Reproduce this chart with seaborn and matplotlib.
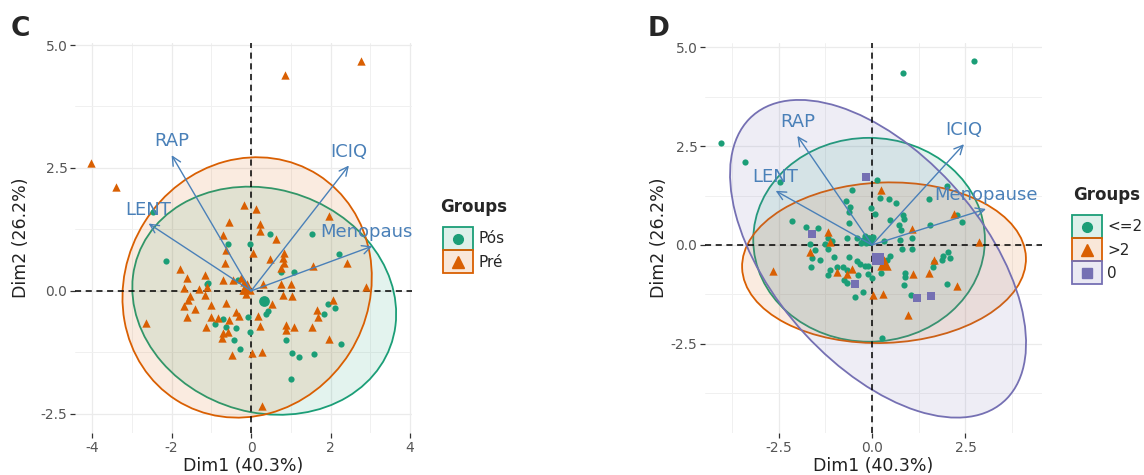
import matplotlib
matplotlib.use("Agg")
import pandas as pd
import matplotlib.pyplot as plt
import seaborn as sns
from matplotlib.patches import Ellipse, Rectangle
from matplotlib.lines import Line2D
from matplotlib.legend_handler import HandlerBase
from matplotlib.ticker import FixedLocator
from matplotlib.colors import to_rgba
from matplotlib.transforms import offset_copy

# variable loadings (same PCA in both panels)
var_names = ["RAP", "ICIQ", "LENT", "Menopause"]
var_x = [-2.00, 2.46, -2.58, 3.05]
var_y = [2.76, 2.55, 1.37, 0.91]

# ---- panel C : menopause status ----
c_groups = ["Pós", "Pré"]
c_pos = [(0.48, 1.16), (1.52, 1.16), (-0.58, 0.95), (-0.02, 0.95), (-2.13, 0.61), (0.76, 0.38),
         (1.07, 0.38), (-1.08, 0.17), (-1.12, 0.14), (-0.33, 0.22), (0.42, -0.40), (0.38, -0.48),
         (-0.08, -0.53), (-0.70, -0.58), (-0.91, -0.68), (-0.62, -0.73), (-0.38, -0.76), (-0.03, -0.83),
         (-0.43, -1.00), (-0.28, -1.18), (0.88, -1.00), (1.04, -1.26), (1.21, -1.35), (1.59, -1.28),
         (1.00, -1.79), (1.93, -0.27), (2.12, -0.35), (1.84, -0.47), (2.27, -1.08), (2.21, 0.76),
         (-2.46, 1.60)]
c_pre = [(-0.18, 1.74), (0.13, 1.66), (-0.55, 1.40), (0.23, 1.37), (0.23, 1.21), (-0.71, 1.13),
         (0.63, 1.06), (-0.63, 0.84), (0.06, 0.78), (0.84, 0.77), (0.48, 0.64), (0.80, 0.66),
         (1.97, 1.52), (2.42, 0.57), (1.55, 0.50), (0.82, 0.56), (0.75, 0.47), (-0.65, 0.56),
         (-1.80, 0.45), (-1.62, 0.27), (-1.17, 0.33), (-0.70, 0.22), (-0.46, 0.22), (-0.25, 0.27),
         (-0.17, 0.18), (-0.21, 0.01), (-0.13, -0.07), (-1.68, 0.05), (-1.30, 0.03), (-1.12, 0.08),
         (-1.16, -0.09), (-1.55, -0.11), (-1.59, -0.19), (-1.68, -0.30), (-1.40, -0.36), (-1.62, -0.54),
         (-1.01, -0.28), (-0.63, -0.24), (-0.38, -0.43), (-0.31, -0.51), (-0.56, -0.60), (-1.01, -0.53),
         (-0.84, -0.56), (-1.13, -0.73), (-0.71, -0.85), (-0.59, -0.83), (-0.73, -0.96), (0.18, -0.51),
         (0.23, -0.72), (0.52, -0.26), (0.80, -0.09), (1.03, -0.11), (1.01, 0.15), (0.74, 0.13),
         (0.31, 0.13), (0.88, -0.70), (1.07, -0.73), (0.88, -0.80), (1.53, -0.73), (1.66, -0.39),
         (1.68, -0.54), (2.05, -0.18), (1.97, -0.98), (2.88, 0.07), (-2.64, -0.66), (-0.49, -1.31),
         (0.02, -1.27), (0.28, -1.24), (0.28, -2.34), (-4.03, 2.61), (-3.40, 2.11), (0.86, 4.39),
         (2.77, 4.67)]
# group means / 95% ellipses
c_mean_x = [0.33, -0.10]
c_mean_y = [-0.20, 0.07]
c_semi_a = [3.34, 3.16]
c_semi_b = [2.29, 2.62]
c_angle = [-8.7, 12.4]

# ---- panel D : parity groups ----
d_groups = ["<=2", ">2", "0"]
d_le2 = [(0.14, 1.65), (-0.54, 1.39), (0.21, 1.20), (0.46, 1.16), (0.63, 1.05), (-0.70, 1.10),
         (-0.59, 0.97), (-0.63, 0.84), (-0.04, 0.93), (0.08, 0.78), (-2.13, 0.61), (-1.77, 0.45),
         (-1.46, 0.42), (-0.63, 0.55), (0.48, 0.62), (0.82, 0.76), (0.86, 0.65), (0.73, 0.51),
         (0.78, 0.38), (1.06, 0.17), (1.55, 0.51), (2.00, 1.49), (2.26, 0.76), (2.42, 0.57),
         (1.53, 1.16), (-1.19, 0.17), (-1.08, 0.11), (-1.26, 0.03), (-1.17, -0.11), (-1.52, -0.13),
         (-1.66, 0.03), (-0.68, 0.17), (-0.41, 0.17), (-0.19, 0.23), (-0.23, 0.13), (-0.05, 0.11),
         (0.32, 0.11), (0.75, 0.13), (0.81, -0.11), (1.06, -0.11), (-1.61, -0.34), (-1.39, -0.38),
         (-1.64, -0.57), (-1.01, -0.31), (-0.63, -0.30), (-0.39, -0.40), (-0.32, -0.49), (-0.19, -0.53),
         (-0.78, -0.55), (-0.94, -0.57), (-1.12, -0.63), (-1.19, -0.76), (-0.68, -0.63), (-0.75, -0.89),
         (-0.68, -0.97), (-0.37, -0.76), (-0.10, -0.74), (-0.25, -1.18), (-0.47, -1.31), (-0.01, -0.84),
         (-0.10, -0.53), (0.23, -0.72), (0.48, -0.28), (0.39, -0.38), (0.88, -0.70), (0.88, -0.80),
         (0.86, -1.01), (1.03, -1.27), (1.64, -0.55), (1.67, -0.42), (1.86, -0.38), (1.90, -0.28),
         (2.04, -0.19), (2.09, -0.34), (2.00, -1.00), (0.26, -2.35), (0.84, 4.36), (2.74, 4.66),
         (-4.04, 2.58), (-3.40, 2.10), (-2.46, 1.60), (-0.30, 0.05), (-0.15, 0.04), (0.02, 0.20)]
d_gt2 = [(0.23, 1.38), (-1.17, 0.34), (-1.12, 0.08), (-1.66, -0.17), (-2.64, -0.65), (1.08, 0.40),
         (2.19, 0.78), (2.87, 0.07), (1.67, -0.38), (1.53, -0.72), (1.09, -0.73), (2.26, -1.05),
         (-0.54, -0.62), (-0.68, -0.73), (-0.93, -0.68), (0.02, -1.27), (0.29, -1.24), (0.97, -1.77)]
d_zero = [(-0.17, 1.73), (-1.61, 0.28), (-0.45, -1.00), (1.19, -1.35), (1.57, -1.28)]
d_mean_x = [-0.08, 0.32, 0.16]
d_mean_y = [0.13, -0.45, -0.35]
d_semi_a = [3.10, 3.80, 4.94]
d_semi_b = [2.58, 2.03, 2.73]
d_angle = [0.0, 2.0, -45.8]

GREEN, ORANGE, PURPLE = "#1B9E77", "#D95F02", "#7570B3"
ARROW = "#4A80B8"

df_c = pd.concat([pd.DataFrame(c_pos, columns=["x", "y"]).assign(group="Pós"),
                  pd.DataFrame(c_pre, columns=["x", "y"]).assign(group="Pré")])
df_d = pd.concat([pd.DataFrame(d_le2, columns=["x", "y"]).assign(group="<=2"),
                  pd.DataFrame(d_gt2, columns=["x", "y"]).assign(group=">2"),
                  pd.DataFrame(d_zero, columns=["x", "y"]).assign(group="0")])

sns.set_theme(style="white")
plt.rcParams["font.family"] = ["DejaVu Sans"]
plt.rcParams["axes.unicode_minus"] = False

fig = plt.figure(figsize=(11.44, 4.75), dpi=100)


class LegendKey:
    def __init__(self, color, marker, ms):
        self.color, self.marker, self.ms = color, marker, ms


class KeyHandler(HandlerBase):
    # ggplot-like key: tinted box with the marker centred in it
    def create_artists(self, legend, orig_handle, xdescent, ydescent, width, height, fontsize, trans):
        c = orig_handle.color
        box = Rectangle((-xdescent, -ydescent), width, height, facecolor=to_rgba(c, 0.15),
                        edgecolor=c, lw=1.3, transform=trans)
        mk = Line2D([width / 2 - xdescent], [height / 2 - ydescent], marker=orig_handle.marker,
                    color=c, markersize=orig_handle.ms, linestyle="", transform=trans)
        return [box, mk]


def draw_panel(ax, df, groups, colors, markers, sizes, mean_x, mean_y, semi_a, semi_b, angles,
               xlim, ylim, xmajor, xminor, ymajor, yminor, xlabels, ylabels):
    # ellipses
    for i, g in enumerate(groups):
        ax.add_patch(Ellipse((mean_x[i], mean_y[i]), 2 * semi_a[i], 2 * semi_b[i], angle=angles[i],
                             facecolor=to_rgba(colors[i], 0.12), edgecolor=colors[i], lw=1.3, zorder=1))
    ax.axhline(0, color="black", ls=(0, (4, 3)), lw=1.1, zorder=2)
    ax.axvline(0, color="black", ls=(0, (4, 3)), lw=1.1, zorder=2)

    for i, g in enumerate(groups):
        sub = df[df["group"] == g]
        sns.scatterplot(data=sub, x="x", y="y", ax=ax, color=colors[i], marker=markers[i],
                        s=sizes[i], linewidth=0, zorder=3, legend=False)
        sns.scatterplot(x=[mean_x[i]], y=[mean_y[i]], ax=ax, color=colors[i], marker=markers[i],
                        s=sizes[i] * 3, linewidth=0, zorder=3, legend=False)

    # variable arrows
    lab_tr = offset_copy(ax.transData, fig=fig, y=10, units="points")
    for name, vx, vy in zip(var_names, var_x, var_y):
        ax.annotate("", xy=(vx, vy), xytext=(0, 0),
                    arrowprops=dict(arrowstyle="->,head_length=0.45,head_width=0.22", color=ARROW,
                                    lw=1.0, shrinkA=0, shrinkB=0, mutation_scale=14), zorder=4)
        ax.text(vx, vy, name, transform=lab_tr, ha="center", va="center", color=ARROW,
                fontsize=13, zorder=5, clip_on=True)

    ax.set_xlim(*xlim)
    ax.set_ylim(*ylim)
    ax.set_xticks(xmajor)
    ax.set_xticklabels(xlabels)
    ax.set_yticks(ymajor)
    ax.set_yticklabels(ylabels)
    ax.xaxis.set_minor_locator(FixedLocator(xminor))
    ax.yaxis.set_minor_locator(FixedLocator(yminor))
    ax.grid(which="major", color="#EBEBEB", lw=0.9)
    ax.grid(which="minor", color="#F0F0F0", lw=0.7)
    ax.set_axisbelow(True)
    ax.tick_params(which="major", length=3.5, width=0.9, color="#333333", labelcolor="#555555",
                   labelsize=10, pad=2, bottom=True, left=True)
    ax.tick_params(which="minor", length=0)
    for s in ax.spines.values():
        s.set_visible(False)
    ax.set_xlabel("Dim1 (40.3%)", fontsize=12.5, color="#222222")
    ax.set_ylabel("Dim2 (26.2%)", fontsize=12.5, color="#222222")
    ax.xaxis.set_label_coords(0.5, -0.062)


def add_legend(ax, groups, colors, markers, msizes, title_xy, anchor):
    # title drawn on its own so the gap above the keys matches
    fig.text(title_xy[0], title_xy[1], "Groups", fontsize=12, fontweight="bold", ha="left", va="center")
    handles = [LegendKey(c, m, ms) for c, m, ms in zip(colors, markers, msizes)]
    ax.legend(handles, groups, loc="upper left", bbox_to_anchor=anchor,
              bbox_transform=fig.transFigure, frameon=False, fontsize=11,
              handler_map={LegendKey: KeyHandler()}, handlelength=1.96,
              handleheight=1.95, labelspacing=0.0, handletextpad=0.35, borderpad=0, borderaxespad=0)


ax_c = fig.add_axes([0.0656, 0.0884, 0.2946, 0.821])
draw_panel(ax_c, df_c, c_groups, [GREEN, ORANGE], ["o", "^"], [20, 36],
           c_mean_x, c_mean_y, c_semi_a, c_semi_b, c_angle,
           (-4.43, 4.05), (-2.89, 5.04),
           [-4, -2, 0, 2, 4], [-3, -1, 1, 3], [-2.5, 0, 2.5, 5.0], [-1.25, 1.25, 3.75],
           ["-4", "-2", "0", "2", "4"], ["-2.5", "0.0", "2.5", "5.0"])
ax_c.yaxis.set_label_coords(-0.135, 0.5)
add_legend(ax_c, c_groups, [GREEN, ORANGE], ["o", "^"], [7, 9],
           (440 / 1144, 1 - 207 / 475), (443 / 1144, 1 - 227 / 475))

ax_d = fig.add_axes([0.6163, 0.0884, 0.2946, 0.821])
draw_panel(ax_d, df_d, d_groups, [GREEN, ORANGE, PURPLE], ["o", "^", "s"], [20, 36, 26],
           d_mean_x, d_mean_y, d_semi_a, d_semi_b, d_angle,
           (-4.47, 4.55), (-4.76, 5.11),
           [-2.5, 0, 2.5], [-3.75, -1.25, 1.25, 3.75], [-2.5, 0, 2.5, 5.0], [-3.75, -1.25, 1.25, 3.75],
           ["-2.5", "0.0", "2.5"], ["-2.5", "0.0", "2.5", "5.0"])
ax_d.yaxis.set_label_coords(-0.11, 0.5)
add_legend(ax_d, d_groups, [GREEN, ORANGE, PURPLE], ["o", "^", "s"], [7, 9, 7],
           (1073 / 1144, 1 - 195 / 475), (1072 / 1144, 1 - 215 / 475))

fig.text(0.009, 0.939, "C", fontsize=19, fontweight="bold", va="center", ha="left")
fig.text(0.566, 0.939, "D", fontsize=19, fontweight="bold", va="center", ha="left")

fig.savefig("out.png", dpi=100)
